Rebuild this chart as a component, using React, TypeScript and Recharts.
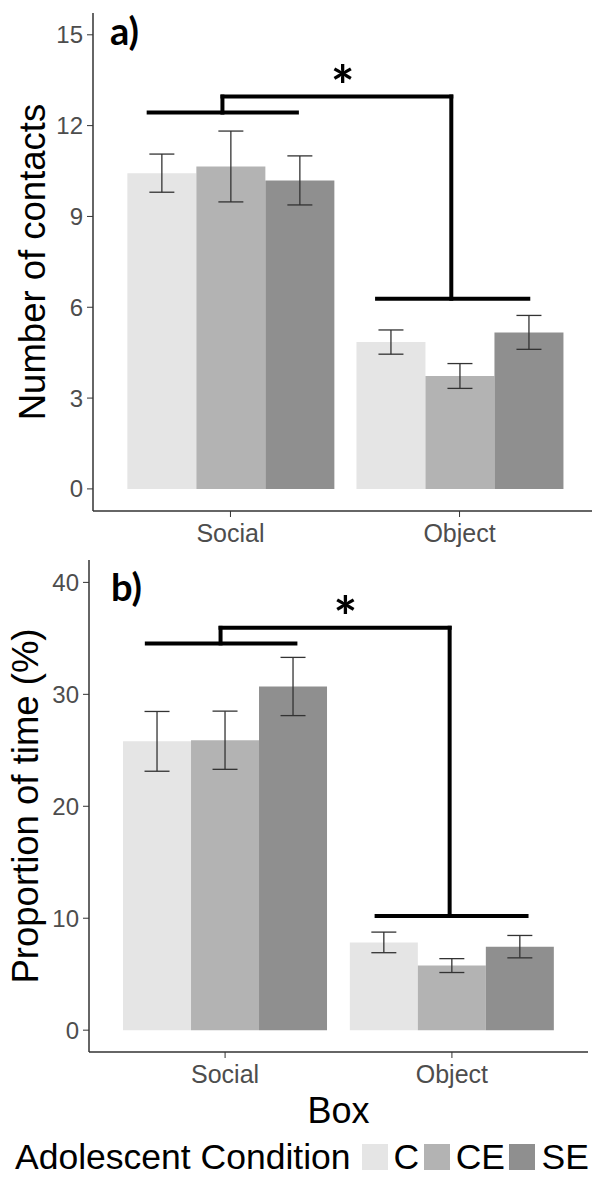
import { BarChart, Bar, XAxis, YAxis, ErrorBar, ReferenceLine, ReferenceDot, Legend } from "recharts";

const FONT = '"Liberation Sans", Arial, sans-serif';
const TAG_FONT = 'Lato, "Open Sans", sans-serif';

const boxes = ["Social", "Object"];
const boxPositions = [1, 2];
const conditions = ["C", "CE", "SE"];
const conditionColors = ["#e5e5e5", "#b3b3b3", "#8f8f8f"];

// a) number of contacts (mean, SEM)
const contactsC = [10.43, 4.85];
const contactsCE = [10.65, 3.73];
const contactsSE = [10.19, 5.17];
const contactsErrC = [0.63, 0.4];
const contactsErrCE = [1.17, 0.41];
const contactsErrSE = [0.81, 0.56];
const contactsTicks = [0, 3, 6, 9, 12, 15];

// b) proportion of time (%)
const timeC = [25.8, 7.84];
const timeCE = [25.9, 5.77];
const timeSE = [30.7, 7.46];
const timeErrC = [2.67, 0.92];
const timeErrCE = [2.6, 0.62];
const timeErrSE = [2.6, 1.0];
const timeTicks = [0, 10, 20, 30, 40];

// significance brackets, x in box units (Social = 1, Object = 2)
const contactsBracket = { socialFrom: 0.643, socialTo: 1.29, step: 0.965, drop: 1.964, objectFrom: 1.64, objectTo: 2.3, socialY: 12.43, topY: 12.96, objectY: 6.28, starX: 1.49 };
const timeBracket = { socialFrom: 0.655, socialTo: 1.31, step: 0.98, drop: 1.99, objectFrom: 1.668, objectTo: 2.329, socialY: 34.55, topY: 35.94, objectY: 10.2, starX: 1.53 };

const buildRows = (c: number[], ce: number[], se: number[], ec: number[], ece: number[], ese: number[]) =>
  boxes.map((box, i) => ({ box, pos: boxPositions[i], C: c[i], CE: ce[i], SE: se[i], errC: ec[i], errCE: ece[i], errSE: ese[i] }));

const contactsRows = buildRows(contactsC, contactsCE, contactsSE, contactsErrC, contactsErrCE, contactsErrSE);
const timeRows = buildRows(timeC, timeCE, timeSE, timeErrC, timeErrCE, timeErrSE);

const bracketSegments = (b: any) => [
  [{ x: b.socialFrom, y: b.socialY }, { x: b.socialTo, y: b.socialY }],
  [{ x: b.step, y: b.socialY }, { x: b.step, y: b.topY }],
  [{ x: b.step, y: b.topY }, { x: b.drop, y: b.topY }],
  [{ x: b.drop, y: b.topY }, { x: b.drop, y: b.objectY }],
  [{ x: b.objectFrom, y: b.objectY }, { x: b.objectTo, y: b.objectY }],
];

const LegendRow = () => (
  <div style={{ height: 50, display: "flex", alignItems: "center", paddingLeft: 15, fontFamily: FONT, fontSize: 35.5, color: "#000", whiteSpace: "nowrap" }}>
    <span style={{ marginRight: 11 }}>Adolescent Condition</span>
    {conditions.map((c, i) => (
      <span key={c} style={{ display: "flex", alignItems: "center", marginRight: 4.5 }}>
        <span style={{ width: 26, height: 26, background: conditionColors[i], marginRight: 6, display: "inline-block" }} />
        <span>{c}</span>
      </span>
    ))}
  </div>
);

interface PanelProps {
  rows: any[];
  domain: [number, number];
  ticks: number[];
  axisLeft: number;
  unit: number;
  chartTop: number;
  plotTop: number;
  chartHeight: number;
  xAxisHeight: number;
  yTitle: string;
  yTitleX: number;
  bracket: any;
  withBox?: boolean;
}

const Panel = ({ rows, domain, ticks, axisLeft, unit, chartTop, plotTop, chartHeight, xAxisHeight, yTitle, yTitleX, bracket, withBox }: PanelProps) => {
  const width = Math.round(axisLeft + unit * 2.2);
  return (
    <div style={{ position: "absolute", left: 0, top: chartTop }}>
      <BarChart
        width={width}
        height={chartHeight}
        data={rows}
        margin={{ top: plotTop - chartTop, right: 0, bottom: 0, left: 0 }}
        barCategoryGap="5%"
        barGap={0}
      >
        <XAxis
          dataKey="pos"
          type="number"
          domain={[0.4, 2.6]}
          ticks={boxPositions}
          allowDataOverflow
          tickFormatter={(v: number) => boxes[boxPositions.indexOf(v)] ?? ""}
          height={xAxisHeight}
          tickSize={6}
          tickMargin={7}
          tick={{ fontSize: 25, fill: "#4d4d4d", fontFamily: FONT }}
          axisLine={{ stroke: "#333", strokeWidth: 1.5 }}
          tickLine={{ stroke: "#333" }}
          label={
            withBox
              ? {
                  content: (p: any) => (
                    <text x={p.viewBox.x + p.viewBox.width / 2} y={p.viewBox.y + 71} textAnchor="middle" fontFamily={FONT} fontSize={36} fill="#000">
                      Box
                    </text>
                  ),
                }
              : undefined
          }
        />
        <YAxis
          width={axisLeft}
          domain={domain}
          ticks={ticks}
          allowDataOverflow
          tickSize={6}
          tickMargin={4}
          tick={{ fontSize: 24, fill: "#4d4d4d", fontFamily: FONT }}
          axisLine={{ stroke: "#333", strokeWidth: 1.5 }}
          tickLine={{ stroke: "#333" }}
          label={{
            content: (p: any) => (
              <text
                transform={`translate(${yTitleX}, ${p.viewBox.y + p.viewBox.height / 2}) rotate(-90)`}
                textAnchor="middle"
                fontFamily={FONT}
                fontSize={36.5}
                fill="#000"
              >
                {yTitle}
              </text>
            ),
          }}
        />
        {conditions.map((c, i) => (
          <Bar key={c} dataKey={c} fill={conditionColors[i]} isAnimationActive={false}>
            <ErrorBar dataKey={`err${c}`} direction="y" width={12.5} stroke="#333" strokeWidth={1.3} isAnimationActive={false} />
          </Bar>
        ))}
        {bracketSegments(bracket).map((seg, i) => (
          <ReferenceLine key={i} segment={seg} stroke="#000" strokeWidth={4} strokeLinecap="square" />
        ))}
        <ReferenceDot
          x={bracket.starX}
          y={bracket.topY}
          r={1}
          shape={(p: any) => (
            <text x={p.cx} y={p.cy + 9} textAnchor="middle" fontFamily={TAG_FONT} fontWeight={700} fontSize={56} fill="#000">
              *
            </text>
          )}
        />
        {withBox && <Legend verticalAlign="bottom" height={50} content={() => <LegendRow />} />}
      </BarChart>
    </div>
  );
};

export default function App() {
  return (
    <div style={{ position: "absolute", left: 0, top: 0, width: 592, height: 1182, overflow: "hidden", background: "#fff" }}>
      <Panel
        rows={contactsRows}
        domain={[-0.73, 15.72]}
        ticks={contactsTicks}
        axisLeft={93}
        unit={229}
        chartTop={0}
        plotTop={13}
        chartHeight={560}
        xAxisHeight={49}
        yTitle="Number of contacts"
        yTitleX={45}
        bracket={contactsBracket}
      />
      <Panel
        rows={timeRows}
        domain={[-1.95, 42.0]}
        ticks={timeTicks}
        axisLeft={89}
        unit={227}
        chartTop={547}
        plotTop={560}
        chartHeight={635}
        xAxisHeight={80}
        yTitle="Proportion of time (%)"
        yTitleX={38}
        bracket={timeBracket}
        withBox
      />
      <svg width={592} height={1182} style={{ position: "absolute", left: 0, top: 0, pointerEvents: "none" }}>
        <text x={110} y={45} fontFamily={TAG_FONT} fontWeight={700} fontSize={38} fill="#000">a)</text>
        <text x={111} y={601} fontFamily={TAG_FONT} fontWeight={700} fontSize={38} fill="#000">b)</text>
      </svg>
    </div>
  );
}
